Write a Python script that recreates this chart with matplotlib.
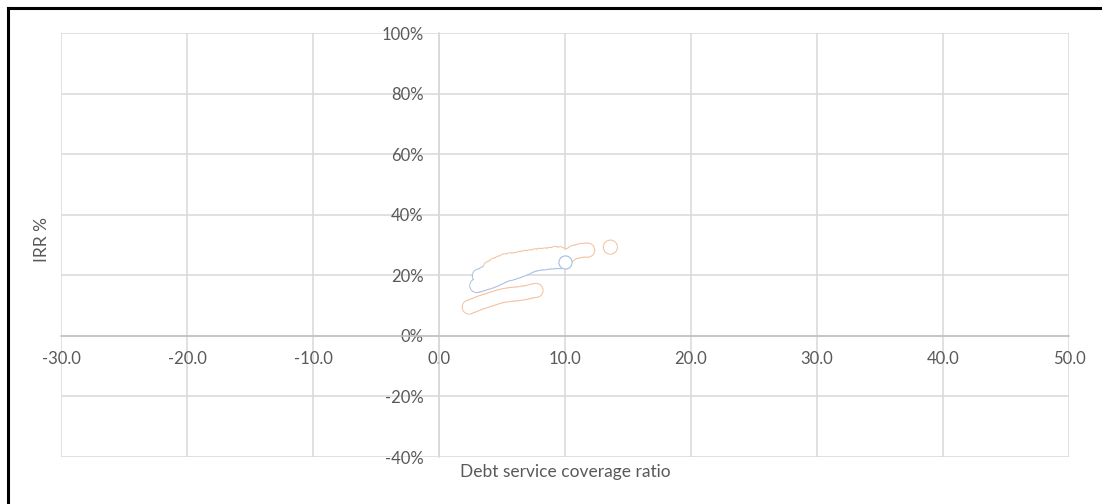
import matplotlib
matplotlib.use("Agg")
import matplotlib.pyplot as plt
from matplotlib.lines import Line2D
from matplotlib.ticker import FuncFormatter, MultipleLocator

plt.rcParams['font.family'] = ['Lato', 'DejaVu Sans']

# ---- data (DSCR, IRR %) ----
orange_low_x = [2.4, 2.7, 3.0, 3.3, 3.6, 3.9, 4.2, 4.5, 4.8, 5.1, 5.4, 5.7, 6.0, 6.3, 6.6, 6.9, 7.2, 7.5, 7.7]
orange_low_y = [9.5, 10.0, 10.5, 11.0, 11.4, 11.8, 12.2, 12.6, 13.0, 13.3, 13.5, 13.7, 13.8, 13.9, 14.1, 14.3, 14.6, 14.9, 15.0]

orange_up_x = [4.05, 4.44, 4.84, 5.24, 5.63, 6.03, 6.43, 6.83, 7.22, 7.62, 8.02, 8.41, 8.81, 9.21, 9.6,
               10.4, 10.7, 11.0, 11.3, 11.6, 11.8, 13.6]
orange_up_y = [22.4, 23.4, 24.1, 24.8, 25.1, 25.2, 25.6, 25.9, 26.1, 26.4, 26.6, 26.7, 26.9, 27.2, 27.1,
               26.8, 27.6, 27.9, 28.2, 28.3, 28.3, 29.3]

blue_low_x = [3.0, 3.3, 3.6, 3.9, 4.2, 4.5, 4.8, 5.1, 5.4, 5.7, 6.0, 6.3, 6.6, 6.9, 7.2, 7.5, 7.8,
              8.1, 8.4, 8.7, 9.0, 9.3, 9.6]
blue_low_y = [16.6, 16.9, 17.3, 17.7, 18.1, 18.6, 19.2, 19.8, 20.3, 20.6, 21.0, 21.4, 21.9, 22.4, 23.0,
              23.5, 23.8, 24.0, 24.1, 24.3, 24.4, 24.5, 24.5]
blue_mid_x = [3.2, 3.6, 4.2, 4.8, 5.4, 6.0, 6.6, 7.2, 7.8, 8.4, 9.0]
blue_mid_y = [19.8, 20.6, 20.8, 21.6, 22.6, 23.4, 24.0, 25.0, 25.6, 26.0, 26.2]
blue_last_x = [10.0]
blue_last_y = [24.4]

ORANGE = '#F6C4A2'
BLUE = '#AFC3E6'

W, H = 1102, 504
fig = plt.figure(figsize=(W / 100, H / 100), dpi=100)
ax = fig.add_axes([61 / W, 1 - 457 / H, (1069 - 61) / W, (457 - 33) / H])

ax.set_xlim(-30, 50)
ax.set_ylim(-40, 100)
ax.xaxis.set_major_locator(MultipleLocator(10))
ax.yaxis.set_major_locator(MultipleLocator(20))
ax.grid(True, color='#D9D9D9', linewidth=1.1)
ax.set_axisbelow(True)

for s in ['top', 'right']:
    ax.spines[s].set_visible(False)
ax.spines['left'].set_position(('data', 0))
ax.spines['bottom'].set_position(('data', 0))
ax.spines['left'].set_color('#D9D9D9')
ax.spines['bottom'].set_color('#BFBFBF')
ax.spines['left'].set_linewidth(1.1)
ax.spines['bottom'].set_linewidth(1.1)

ax.xaxis.set_major_formatter(FuncFormatter(lambda v, p: f"{v:.1f}"))
ax.yaxis.set_major_formatter(FuncFormatter(lambda v, p: f"{v:.0f}%"))
ax.tick_params(axis='both', length=0, labelsize=12, labelcolor='#595959')
ax.tick_params(axis='x', pad=11)
ax.tick_params(axis='y', pad=11)

size = 100
lw = 0.9
blue_x = blue_low_x + blue_mid_x
blue_y = blue_low_y + blue_mid_y
or_x = orange_low_x + orange_up_x
or_y = orange_low_y + orange_up_y
# outlines
ax.scatter(blue_x, blue_y, s=size, facecolor='none', edgecolor=BLUE, linewidth=lw, zorder=3)
ax.scatter(or_x, or_y, s=size, facecolor='none', edgecolor=ORANGE, linewidth=lw, zorder=3)
# fill interiors (union effect)
ax.scatter(blue_x + or_x, blue_y + or_y, s=size * 0.85, facecolor='white', edgecolor='none', zorder=4)
ax.scatter(blue_last_x, blue_last_y, s=size * 0.9, facecolor='white', edgecolor=BLUE,
           linewidth=lw, zorder=5)

fig.text(42 / W, 1 - 240 / H, 'IRR %', rotation=90, ha='center', va='center',
         fontsize=12.5, color='#595959')
fig.text(565 / W, 1 - 472 / H, 'Debt service coverage ratio', ha='center', va='center',
         fontsize=12.5, color='#595959')

# black frame (left and top)
fig.add_artist(Line2D([7.5 / W, 7.5 / W], [0, 1 - 7.5 / H], transform=fig.transFigure,
                      color='black', linewidth=2.2))
fig.add_artist(Line2D([7.5 / W, 1], [1 - 7.5 / H, 1 - 7.5 / H], transform=fig.transFigure,
                      color='black', linewidth=2.2))

fig.savefig('out.png', dpi=100)
